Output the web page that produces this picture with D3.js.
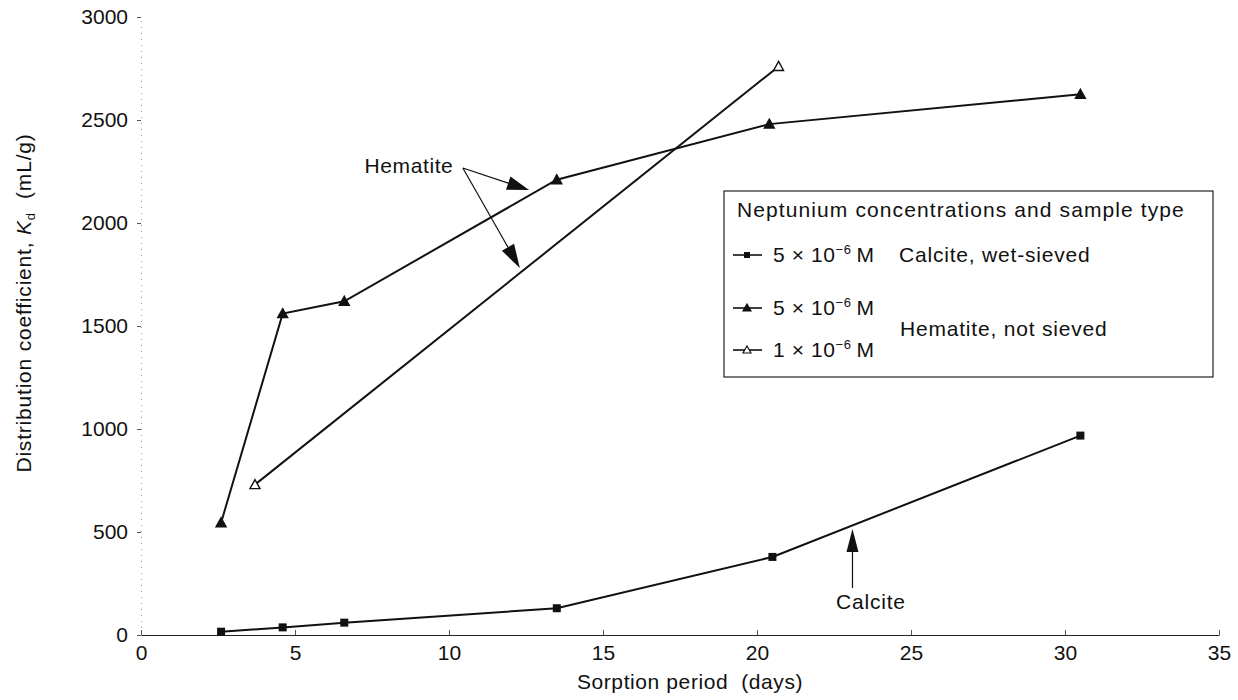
<!DOCTYPE html>
<html>
<head>
<meta charset="utf-8">
<script src="https://cdn.jsdelivr.net/npm/d3@7"></script>
<style>
  body { margin: 0; background: #fff; }
  svg text { font-family: "Liberation Sans", Arial, sans-serif; fill: #111; }
</style>
</head>
<body>
<svg id="chart" width="1238" height="700"></svg>
<script>
// values
const calciteDays = [2.6, 4.6, 6.6, 13.5, 20.5, 30.5];
const calciteKd = [16, 37, 60, 130, 379, 968];
const hem5Days = [2.6, 4.6, 6.6, 13.5, 20.4, 30.5];
const hem5Kd = [545, 1560, 1620, 2210, 2480, 2625];
const hem1Days = [3.7, 20.7];
const hem1Kd = [730, 2760];
const xTicks = [0, 5, 10, 15, 20, 25, 30, 35];
const yTicks = [0, 500, 1000, 1500, 2000, 2500, 3000];

const svg = d3.select('#chart');
const FONT = '"Liberation Sans", Arial, sans-serif';

var margin = { left: 141, top: 17, right: 19, bottom: 65 },
  width = 1238, height = 700;

const x = d3.scaleLinear().domain([0, 35]).range([margin.left, width - margin.right]);
const y = d3.scaleLinear().domain([0, 3000]).range([height - margin.bottom, margin.top]);

// y axis: faint dotted spine, short ticks
const yAxis = svg.append('g')
  .attr('transform', `translate(${x(0)},0)`)
  .call(d3.axisLeft(y).tickValues(yTicks).tickFormat(d3.format('d')).tickSize(4).tickPadding(9));
yAxis.select('.domain').attr('stroke', '#999').attr('stroke-dasharray', '1,5');
yAxis.selectAll('.tick line').attr('stroke', '#555');
yAxis.selectAll('.tick text').attr('font-size', 21).style('font-family', FONT).style('fill', '#111');

// x axis
const xAxis = svg.append('g')
  .attr('transform', `translate(0,${y(0)})`)
  .call(d3.axisBottom(x).tickValues(xTicks).tickSizeInner(-5).tickSizeOuter(0).tickPadding(10));
xAxis.select('.domain').attr('stroke', '#222').attr('stroke-width', 1.2);
xAxis.selectAll('.tick line').attr('stroke', '#555');
xAxis.selectAll('.tick text').attr('font-size', 21).attr('dy', '0.7em').style('font-family', FONT).style('fill', '#111');

// axis titles
svg.append('text')
  .attr('x', 690).attr('y', 689)
  .attr('text-anchor', 'middle').attr('font-size', 21)
  .style('letter-spacing', '0.6px')
  .text('Sorption period\u00a0 (days)');

const yTitle = svg.append('text')
  .attr('transform', `translate(31,303) rotate(-90)`)
  .attr('text-anchor', 'middle').attr('font-size', 21)
  .style('letter-spacing', '0.8px');
yTitle.append('tspan').text('Distribution coefficient, ');
yTitle.append('tspan').attr('font-style', 'italic').text('K');
yTitle.append('tspan').attr('font-size', 13).attr('dy', 4).text('d');
yTitle.append('tspan').attr('dy', -4).text('\u00a0 (mL/g)');

// series
const series = [
  { days: calciteDays, kd: calciteKd, marker: 'square', fill: '#111' },
  { days: hem5Days, kd: hem5Kd, marker: 'triangle', fill: '#111' },
  { days: hem1Days, kd: hem1Kd, marker: 'triangle', fill: '#fff' }
];

const line = d3.line()
  .x(d => x(d[0]))
  .y(d => y(d[1]));

function drawMarker(g, cx, cy, s) {
  if (s.marker === 'square') {
    g.append('rect')
      .attr('x', cx - 4).attr('y', cy - 4).attr('width', 8).attr('height', 8)
      .attr('fill', s.fill);
  } else {
    g.append('path')
      .attr('d', `M${cx},${cy - 5}L${cx + 5},${cy + 4}L${cx - 5},${cy + 4}Z`)
      .attr('fill', s.fill).attr('stroke', '#111').attr('stroke-width', 1.4);
  }
}

series.forEach(s => {
  const pts = s.days.map((d, i) => [d, s.kd[i]]);
  svg.append('path')
    .attr('d', line(pts))
    .attr('fill', 'none')
    .attr('stroke', '#111')
    .attr('stroke-width', 2);
  const g = svg.append('g');
  pts.forEach(p => drawMarker(g, x(p[0]), y(p[1]), s));
});

// annotation arrows
function arrow(x1, y1, x2, y2, len, half) {
  const ang = Math.atan2(y2 - y1, x2 - x1);
  const bx = x2 - len * Math.cos(ang), by = y2 - len * Math.sin(ang);
  svg.append('line')
    .attr('x1', x1).attr('y1', y1).attr('x2', bx).attr('y2', by)
    .attr('stroke', '#111').attr('stroke-width', 1.2);
  const px = -Math.sin(ang) * half, py = Math.cos(ang) * half;
  svg.append('path')
    .attr('d', `M${x2},${y2}L${bx + px},${by + py}L${bx - px},${by - py}Z`)
    .attr('fill', '#111');
}

svg.append('text')
  .attr('x', x(8.7)).attr('y', y(2277)).attr('dy', '0.35em')
  .attr('text-anchor', 'middle').attr('font-size', 21)
  .style('letter-spacing', '0.6px')
  .text('Hematite');
arrow(x(10.45), y(2267), x(12.6), y(2160), 22, 7);
arrow(x(10.45), y(2267), x(12.3), y(1781), 24, 7);

svg.append('text')
  .attr('x', x(23.7)).attr('y', y(160)).attr('dy', '0.35em')
  .attr('text-anchor', 'middle').attr('font-size', 21)
  .style('letter-spacing', '0.8px')
  .text('Calcite');
arrow(x(23.1), y(228), x(23.1), y(515), 23, 6);

// legend
const lg = svg.append('g').attr('transform', 'translate(724,191)');
lg.append('rect')
  .attr('width', 489).attr('height', 186)
  .attr('fill', '#fff').attr('stroke', '#222').attr('stroke-width', 1.2);
lg.append('text').attr('x', 13).attr('y', 19).attr('dy', '0.35em')
  .attr('font-size', 21).style('letter-spacing', '1.1px')
  .text('Neptunium concentrations and sample type');

const legendRows = [
  { s: series[0], yy: 64, conc: ['5 \u00d7 10', '\u22126', '\u2009M'] },
  { s: series[1], yy: 117, conc: ['5 \u00d7 10', '\u22126', '\u2009M'] },
  { s: series[2], yy: 159, conc: ['1 \u00d7 10', '\u22126', '\u2009M'] }
];
legendRows.forEach(r => {
  lg.append('line').attr('x1', 9).attr('x2', 38).attr('y1', r.yy).attr('y2', r.yy)
    .attr('stroke', '#111').attr('stroke-width', 1.6);
  const g = lg.append('g');
  if (r.s.marker === 'square') {
    g.append('rect').attr('x', 20).attr('y', r.yy - 3).attr('width', 6).attr('height', 6).attr('fill', '#111');
  } else {
    g.append('path')
      .attr('d', `M23,${r.yy - 4}L27,${r.yy + 3}L19,${r.yy + 3}Z`)
      .attr('fill', r.s.fill).attr('stroke', '#111').attr('stroke-width', 1.2);
  }
  const t = lg.append('text').attr('x', 49).attr('y', r.yy).attr('dy', '0.35em')
    .attr('font-size', 21).style('letter-spacing', '0.6px');
  t.append('tspan').text(r.conc[0]);
  t.append('tspan').attr('font-size', 13).attr('dy', -8).text(r.conc[1]);
  t.append('tspan').attr('dy', 8).text(r.conc[2]);
});
lg.append('text').attr('x', 175).attr('y', 64).attr('dy', '0.35em').attr('font-size', 21)
  .style('letter-spacing', '0.8px')
  .text('Calcite, wet-sieved');
lg.append('text').attr('x', 176).attr('y', 138).attr('dy', '0.35em').attr('font-size', 21)
  .style('letter-spacing', '0.8px')
  .text('Hematite, not sieved');
</script>
</body>
</html>
